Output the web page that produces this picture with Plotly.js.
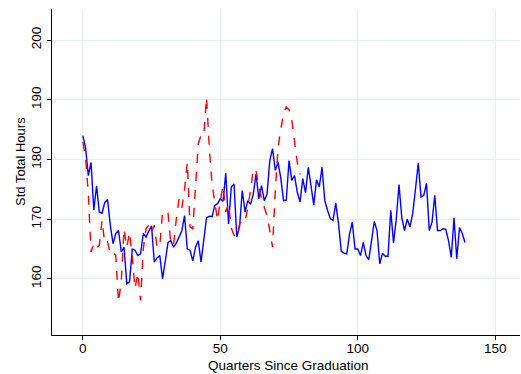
<!DOCTYPE html>
<html>
<head>
<meta charset="utf-8">
<script src="https://cdn.plot.ly/plotly-3.0.1.min.js"></script>
<style>html,body{margin:0;padding:0;background:#fff;}#chart{width:521px;height:374px;}</style>
</head>
<body>
<div id="chart"></div>
<script>
// Blue solid series: quarters 0..139
const blueValues = [
  184, 182, 177.3, 179.5, 171.5, 175.6, 171.2, 171, 172.8, 173.3,
  169, 165.9, 167.6, 168.1, 164.5, 165.3, 159.2, 159.5, 165, 164.8,
  163.9, 164.2, 167.6, 167, 168, 168.9, 162.8, 163.5, 163.9, 160,
  163, 166.1, 166.4, 165.3, 166, 167, 168, 170.6, 165, 164.8,
  163, 165.3, 166.4, 162.8, 166.5, 170.2, 170.5, 170.4, 172.3, 172.6,
  173.4, 173, 177.7, 169.2, 175.4, 175.9, 167, 168.7, 174.8, 171.2,
  173.1, 172.5, 174.2, 177.6, 173.4, 175.6, 173.1, 174.2, 179.8, 181.8,
  178.2, 179.5, 176.9, 173.1, 173.2, 179.8, 176.5, 177.3, 174.5, 172.9,
  176.8, 174.4, 178.7, 175.4, 172.4, 176.6, 175.4, 178.7, 173.1, 171.5,
  170.1, 169.8, 172.7, 169.2, 164.6, 164.3, 164.2, 167.5, 169.5, 165,
  165, 163.9, 166.1, 163.9, 163.2, 166.4, 169.6, 168.1, 162.5, 164.3,
  163.8, 163.8, 171.5, 166, 170, 175.8, 170.3, 168.1, 170, 168.7,
  171, 175.1, 179.4, 173.7, 174, 176, 168.1, 169.5, 174, 168.1,
  168.1, 168.4, 168.3, 166.4, 163.6, 170.2, 163.4, 168.6, 167.6, 166.1
];
// Red dashed series: quarters 0..79
const redValues = [
  182.9, 180.4, 174.3, 164.5, 165.9, 165.1, 165.6, 169.8, 165.9, 166.2,
  164.2, 164.5, 163.9, 156.1, 159.7, 168.4, 165.3, 167.8, 163.6, 158.4,
  161, 156.4, 165, 168.4, 169, 167.8, 169, 165.3, 165.5, 171.2,
  171.4, 171, 165.9, 165.6, 170, 173.4, 171.9, 174.9, 179.5, 168.7,
  168.4, 175, 182.6, 184.1, 184, 190.4, 182, 175.9, 172.6, 169.8,
  173.1, 175.6, 171.2, 172.6, 168.5, 167.3, 167, 169.2, 169.8, 169.5,
  172, 174.8, 178.4, 178.2, 175.4, 173.4, 172, 170.6, 168.1, 165.3,
  174.8, 182, 185, 187.7, 188.8, 188.3, 186.6, 182.6, 179.5, 177.5
];
const blueQuarters = blueValues.map((_, i) => i);
const redQuarters = redValues.map((_, i) => i);
const xTicks = [0, 50, 100, 150];
const yTicks = [160, 170, 180, 190, 200];
const xTitle = 'Quarters Since Graduation';
const yTitle = 'Std Total Hours';

const font = {family: 'Liberation Sans, Arial, sans-serif', color: '#000', size: 13.5};

Plotly.newPlot('chart', [
  {x: blueQuarters, y: blueValues, type: 'scatter', mode: 'lines',
   line: {color: '#0000ff', width: 1.4}, hoverinfo: 'skip'},
  {x: redQuarters, y: redValues, type: 'scatter', mode: 'lines',
   line: {color: '#ff0000', width: 1.4, dash: 'dash'}, hoverinfo: 'skip'}
], {
  width: 521, height: 374,
  margin: {l: 52, r: 1, t: 9, b: 39},
  paper_bgcolor: '#fff', plot_bgcolor: '#fff',
  showlegend: false,
  font: font,
  xaxis: {
    range: [-11.2, 159], tickvals: xTicks, ticktext: xTicks.map(String),
    showgrid: true, gridcolor: '#e8f0f2', gridwidth: 1, zeroline: false,
    showline: true, linecolor: '#000', linewidth: 1.3,
    ticks: 'outside', ticklen: 4, tickcolor: '#000', tickwidth: 1,
    ticklabelstandoff: -4, tickfont: {size: 13.5}
  },
  yaxis: {
    range: [150.6, 205.2], tickvals: yTicks, ticktext: yTicks.map(String),
    showgrid: true, gridcolor: '#e8f0f2', gridwidth: 1, zeroline: false,
    showline: true, linecolor: '#000', linewidth: 1.3,
    ticks: 'outside', ticklen: 4, tickcolor: '#000', tickwidth: 1,
    tickangle: -90, tickfont: {size: 13.5}
  },
  annotations: [
    {text: xTitle, xref: 'paper', yref: 'paper', x: (288 - 52) / 468, y: (335 - 365) / 326,
     xanchor: 'center', yanchor: 'middle', showarrow: false, font: {size: 13.5}},
    {text: yTitle, xref: 'paper', yref: 'paper', x: (21 - 52) / 468, y: (335 - 162) / 326,
     xanchor: 'center', yanchor: 'middle', textangle: -90, showarrow: false, font: {size: 13}}
  ]
}, {staticPlot: true, displayModeBar: false});
</script>
</body>
</html>
